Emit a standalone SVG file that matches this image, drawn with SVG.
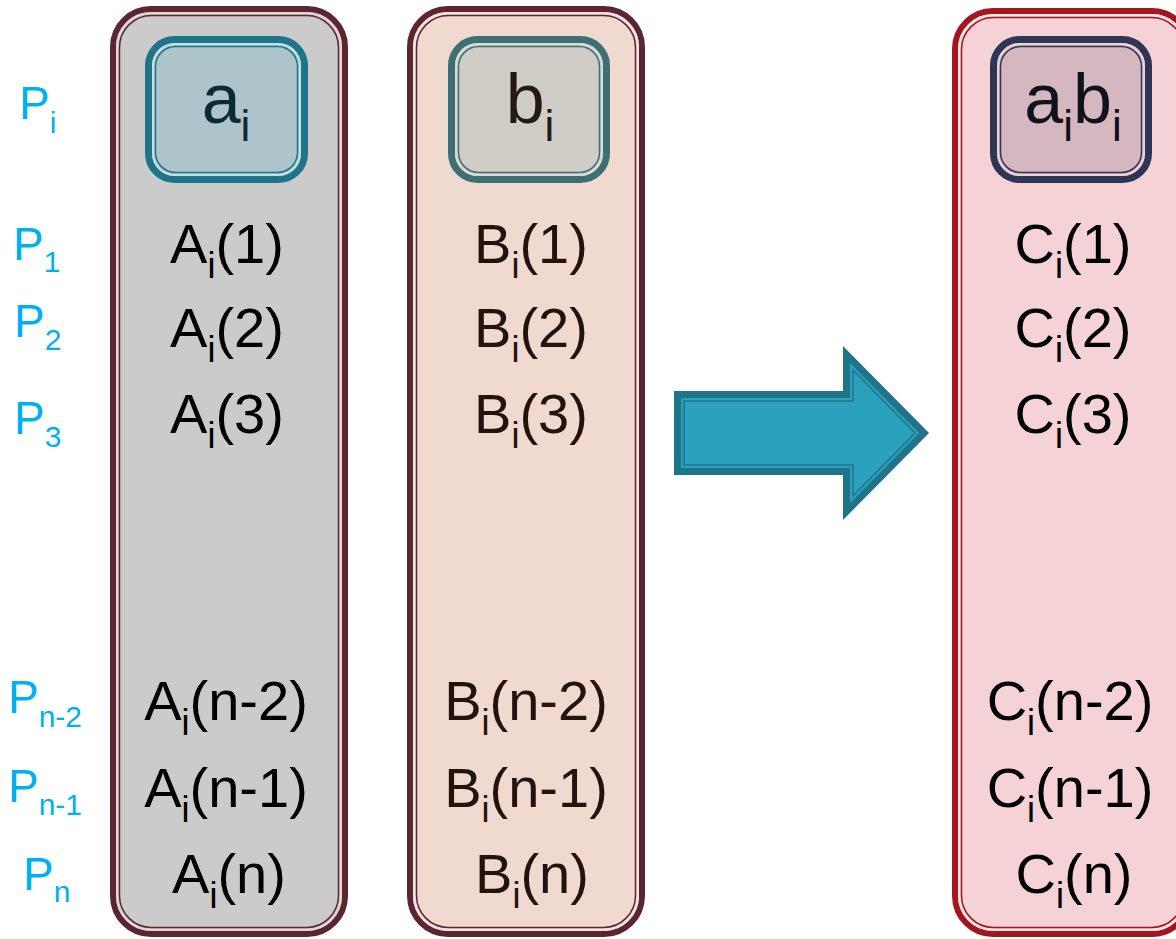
<svg xmlns="http://www.w3.org/2000/svg" width="1176" height="939" viewBox="0 0 1176 939">
<style>
text{font-family:"Liberation Sans",Arial,sans-serif;}
.big{font-size:56px;text-anchor:middle;}
.sub{font-size:36px;}
.box{font-size:70px;text-anchor:middle;}
.bsub{font-size:44px;}
.p{font-size:46px;fill:#00b0f0;}
.psub{font-size:30px;}
</style>
<rect width="1176" height="939" fill="#ffffff"/>

<g id="panelA">
  <rect x="113" y="9" width="232" height="925" rx="38" fill="#cbcbcb" stroke="#5b2631" stroke-width="6"/>
  <rect x="117" y="13" width="224" height="917" rx="34" fill="none" stroke="#e2d6d6" stroke-width="2"/>
  <rect x="119.5" y="15.5" width="219" height="912" rx="32" fill="none" stroke="#5b2631" stroke-width="1.5"/>
  <g fill="#000">
    <text class="big" x="227" y="263">A<tspan class="sub" dy="15">i</tspan><tspan dy="-15">(1)</tspan></text>
    <text class="big" x="227" y="347">A<tspan class="sub" dy="15">i</tspan><tspan dy="-15">(2)</tspan></text>
    <text class="big" x="227" y="433">A<tspan class="sub" dy="15">i</tspan><tspan dy="-15">(3)</tspan></text>
    <text class="big" x="226" y="720">A<tspan class="sub" dy="15">i</tspan><tspan dy="-15">(n-2)</tspan></text>
    <text class="big" x="226" y="807">A<tspan class="sub" dy="15">i</tspan><tspan dy="-15">(n-1)</tspan></text>
    <text class="big" x="229" y="893">A<tspan class="sub" dy="15">i</tspan><tspan dy="-15">(n)</tspan></text>
  </g>
</g>

<g id="boxA">
  <rect x="148.5" y="39.5" width="156" height="140" rx="26" fill="#adc4ca" stroke="#1e7589" stroke-width="7"/>
  <rect x="153" y="44" width="147" height="131" rx="22" fill="none" stroke="#c6dde2" stroke-width="2"/>
  <rect x="155.5" y="46.5" width="142" height="126" rx="20" fill="none" stroke="#1e7589" stroke-width="1.5"/>
  <text class="box" x="226" y="123" fill="#0c2a33">a<tspan class="bsub" dy="18">i</tspan></text>
</g>

<g id="panelB">
  <rect x="410" y="9" width="232" height="925" rx="38" fill="#f0dad0" stroke="#5b2631" stroke-width="6"/>
  <rect x="414" y="13" width="224" height="917" rx="34" fill="none" stroke="#f4e4e0" stroke-width="2"/>
  <rect x="416.5" y="15.5" width="219" height="912" rx="32" fill="none" stroke="#5b2631" stroke-width="1.5"/>
  <g fill="#24120c">
    <text class="big" x="531" y="263">B<tspan class="sub" dy="15">i</tspan><tspan dy="-15">(1)</tspan></text>
    <text class="big" x="531" y="347">B<tspan class="sub" dy="15">i</tspan><tspan dy="-15">(2)</tspan></text>
    <text class="big" x="531" y="433">B<tspan class="sub" dy="15">i</tspan><tspan dy="-15">(3)</tspan></text>
    <text class="big" x="526" y="720">B<tspan class="sub" dy="15">i</tspan><tspan dy="-15">(n-2)</tspan></text>
    <text class="big" x="526" y="807">B<tspan class="sub" dy="15">i</tspan><tspan dy="-15">(n-1)</tspan></text>
    <text class="big" x="532" y="893">B<tspan class="sub" dy="15">i</tspan><tspan dy="-15">(n)</tspan></text>
  </g>
</g>

<g id="boxB">
  <rect x="451.5" y="39.5" width="155" height="140" rx="26" fill="#d0cdc6" stroke="#3c7072" stroke-width="7"/>
  <rect x="456" y="44" width="146" height="131" rx="22" fill="none" stroke="#dcdcd6" stroke-width="2"/>
  <rect x="458.5" y="46.5" width="141" height="126" rx="20" fill="none" stroke="#3c7072" stroke-width="1.5"/>
  <text class="box" x="530" y="123" fill="#221a14">b<tspan class="bsub" dy="18">i</tspan></text>
</g>

<g id="panelC">
  <rect x="955" y="11" width="235" height="923" rx="38" fill="#f5d2d5" stroke="#a3151f" stroke-width="6"/>
  <rect x="959" y="15" width="227" height="915" rx="34" fill="none" stroke="#f8e6e6" stroke-width="2"/>
  <rect x="961.5" y="17.5" width="222" height="910" rx="32" fill="none" stroke="#a3151f" stroke-width="1.5"/>
  <g fill="#000">
    <text class="big" x="1073" y="263">C<tspan class="sub" dy="15">i</tspan><tspan dy="-15">(1)</tspan></text>
    <text class="big" x="1073" y="347">C<tspan class="sub" dy="15">i</tspan><tspan dy="-15">(2)</tspan></text>
    <text class="big" x="1073" y="433">C<tspan class="sub" dy="15">i</tspan><tspan dy="-15">(3)</tspan></text>
    <text class="big" x="1070" y="720">C<tspan class="sub" dy="15">i</tspan><tspan dy="-15">(n-2)</tspan></text>
    <text class="big" x="1070" y="807">C<tspan class="sub" dy="15">i</tspan><tspan dy="-15">(n-1)</tspan></text>
    <text class="big" x="1074" y="893">C<tspan class="sub" dy="15">i</tspan><tspan dy="-15">(n)</tspan></text>
  </g>
</g>

<g id="boxC">
  <rect x="993.5" y="39.5" width="155" height="140" rx="26" fill="#d4b7bf" stroke="#303556" stroke-width="7"/>
  <rect x="998" y="44" width="146" height="131" rx="22" fill="none" stroke="#e6d4d8" stroke-width="2"/>
  <rect x="1000.5" y="46.5" width="141" height="126" rx="20" fill="none" stroke="#303556" stroke-width="1.5"/>
  <text class="box" x="1073" y="123" fill="#111118">a<tspan class="bsub" dy="18">i</tspan><tspan dy="-18">b</tspan><tspan class="bsub" dy="18">i</tspan></text>
</g>

<g id="labels">
  <text class="p" x="19" y="119">P<tspan class="psub" dy="14">i</tspan></text>
  <text class="p" x="13" y="260">P<tspan class="psub" dy="12">1</tspan></text>
  <text class="p" x="14" y="337">P<tspan class="psub" dy="13">2</tspan></text>
  <text class="p" x="14" y="434">P<tspan class="psub" dy="13">3</tspan></text>
  <text class="p" x="8" y="713">P<tspan class="psub" dy="14">n-2</tspan></text>
  <text class="p" x="8" y="802">P<tspan class="psub" dy="13">n-1</tspan></text>
  <text class="p" x="23" y="890">P<tspan class="psub" dy="12">n</tspan></text>
</g>

<g id="connectors">
  <polygon points="674,391 843,391 843,346 929,433 843,520 843,475 674,475" fill="#1f7489"/>
  <polygon points="681,398 850,398 850,363 919,433 850,503 850,468 681,468" fill="#2ca1be"/>
  <polygon points="684,401 853,401 853,370 915,433 853,496 853,465 684,465" fill="#2ca1be" stroke="#1f7489" stroke-width="1.5"/>
</g>
</svg>
